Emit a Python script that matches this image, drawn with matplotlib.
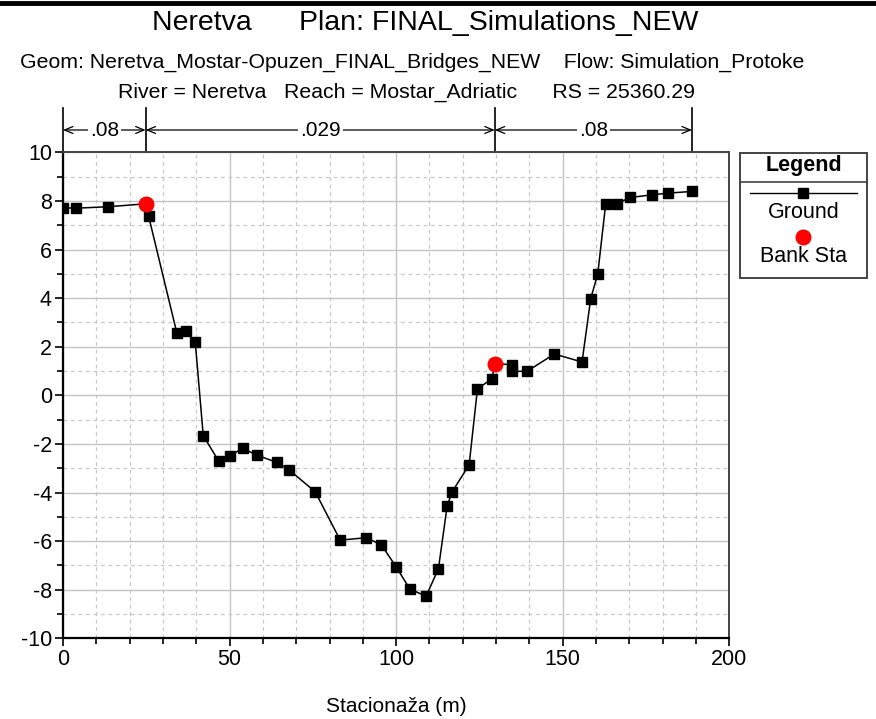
import matplotlib
matplotlib.use("Agg")
import matplotlib.pyplot as plt
import matplotlib.transforms as mtransforms
from matplotlib.lines import Line2D
from matplotlib.patches import Rectangle
import numpy as np

plt.rcParams['font.family'] = ['Liberation Sans', 'DejaVu Sans']
plt.rcParams['axes.unicode_minus'] = False

# ---- data ----
station = [0.0, 3.9, 13.6, 24.8, 25.7, 34.2, 36.8, 39.7, 42.1, 46.7, 50.2, 53.9,
           58.3, 64.2, 67.8, 75.7, 83.2, 91.1, 95.6, 100.0, 104.1, 109.0, 112.7,
           115.3, 116.8, 121.9, 124.4, 128.8, 129.6, 134.7, 134.8, 139.3, 147.5,
           155.8, 158.4, 160.5, 162.9, 166.2, 170.2, 176.9, 181.7, 188.8]
elev = [7.72, 7.70, 7.76, 7.88, 7.37, 2.55, 2.65, 2.18, -1.66, -2.70, -2.48, -2.18,
        -2.47, -2.76, -3.06, -3.97, -5.96, -5.86, -6.16, -7.06, -7.97, -8.27, -7.13,
        -4.56, -3.97, -2.87, 0.26, 0.69, 1.30, 1.26, 0.98, 0.99, 1.70,
        1.37, 3.98, 4.98, 7.88, 7.88, 8.14, 8.25, 8.32, 8.39]
bank_sta = [24.8, 129.6]
bank_elev = [7.88, 1.30]
manning_n = ['.08', '.029', '.08']

title1 = "Neretva      Plan: FINAL_Simulations_NEW"
title2 = "Geom: Neretva_Mostar-Opuzen_FINAL_Bridges_NEW    Flow: Simulation_Protoke"
title3 = "River = Neretva   Reach = Mostar_Adriatic      RS = 25360.29"
xlabel = "Stacionaža (m)"

W, H = 876, 719
fig = plt.figure(figsize=(W / 100, H / 100), dpi=100)
ax = fig.add_axes([63 / W, 1 - 638.3 / H, (729.3 - 63) / W, (638.3 - 152.3) / H])

ax.set_xlim(0, 200)
ax.set_ylim(-10, 10)
ax.set_xticks(np.arange(0, 201, 50))
ax.set_xticks(np.arange(0, 201, 10), minor=True)
ax.set_yticks(np.arange(-10, 11, 2))
ax.set_yticks(np.arange(-10, 11, 1), minor=True)
ax.grid(which='major', color='#c4c4c4', lw=1.0, ls='-')
ax.grid(which='minor', color='#c8c8c8', lw=0.9, ls=(0, (3, 3)))
ax.set_axisbelow(True)
ax.tick_params(which='major', length=6, width=1.2, labelsize=15.5, color='black', pad=2)
ax.tick_params(which='minor', length=4, width=1.2, color='black')
for s in ['left', 'bottom']:
    ax.spines[s].set_color('black')
    ax.spines[s].set_linewidth(1.6)
for s in ['top', 'right']:
    ax.spines[s].set_color('#444444')
    ax.spines[s].set_linewidth(1.4)

ax.plot(station, elev, color='black', lw=1.1, marker='s', ms=6.5, mfc='black',
        mec='black', zorder=3)
ax.plot(bank_sta, bank_elev, ls='none', marker='o', ms=10.5, mfc='red', mec='red', zorder=4)

ax.set_xlabel(xlabel, fontsize=15, labelpad=19)

# Manning's n regions
trans = mtransforms.blended_transform_factory(ax.transData, ax.transAxes)
bounds = [station[0], bank_sta[0], bank_sta[1], station[-1]]
y_top = 1 + (152.3 - 108) / 486
y_arr = 1 + (152.3 - 130) / 486
for b in bounds:
    ax.plot([b, b], [1.0, y_top], transform=trans, color='black', lw=1.2, clip_on=False)
for i, n in enumerate(manning_n):
    x0, x1 = bounds[i], bounds[i + 1]
    ax.annotate('', xy=(x0, y_arr), xytext=(x1, y_arr), xycoords=trans, textcoords=trans,
                arrowprops=dict(arrowstyle='<->,head_length=0.6,head_width=0.25',
                                color='black', lw=0.9, shrinkA=0, shrinkB=0),
                annotation_clip=False)
    ax.text((x0 + x1) / 2, y_arr, n, transform=trans, ha='center', va='center',
            fontsize=15, bbox=dict(facecolor='white', edgecolor='none', pad=1.5),
            clip_on=False)

# Titles
fig.text(425 / W, 1 - 23 / H, title1, ha='center', va='center', fontsize=20.5)
fig.text(412 / W, 1 - 62 / H, title2, ha='center', va='center', fontsize=15.3)
fig.text(407 / W, 1 - 92 / H, title3, ha='center', va='center', fontsize=15.3)
fig.add_artist(Line2D([0, 1], [1 - 2.5 / H, 1 - 2.5 / H], color='black', lw=3.5,
                      transform=fig.transFigure))

# Legend box
lax = fig.add_axes([740 / W, 1 - 278 / H, (867 - 740) / W, (278 - 152.7) / H])
lax.set_xlim(740, 867)
lax.set_ylim(278, 152.7)
lax.axis('off')
lax.add_patch(Rectangle((740, 152.7), 127, 125.3, fill=False, ec='#444444', lw=1.4,
                        clip_on=False))
lax.plot([740, 867], [181.7, 181.7], color='#444444', lw=1.2, clip_on=False)
lax.text(803.5, 166, 'Legend', ha='center', va='center', fontsize=15.5, fontweight='bold')
lax.plot([750, 857], [193, 193], color='black', lw=1.0)
lax.plot([803], [193], marker='s', ms=6.5, color='black')
lax.text(803.5, 213, 'Ground', ha='center', va='center', fontsize=15.5)
lax.plot([803], [237], marker='o', ms=10.5, color='red', ls='none')
lax.text(803.5, 257, 'Bank Sta', ha='center', va='center', fontsize=15.5)

fig.savefig('out.png', dpi=100)
